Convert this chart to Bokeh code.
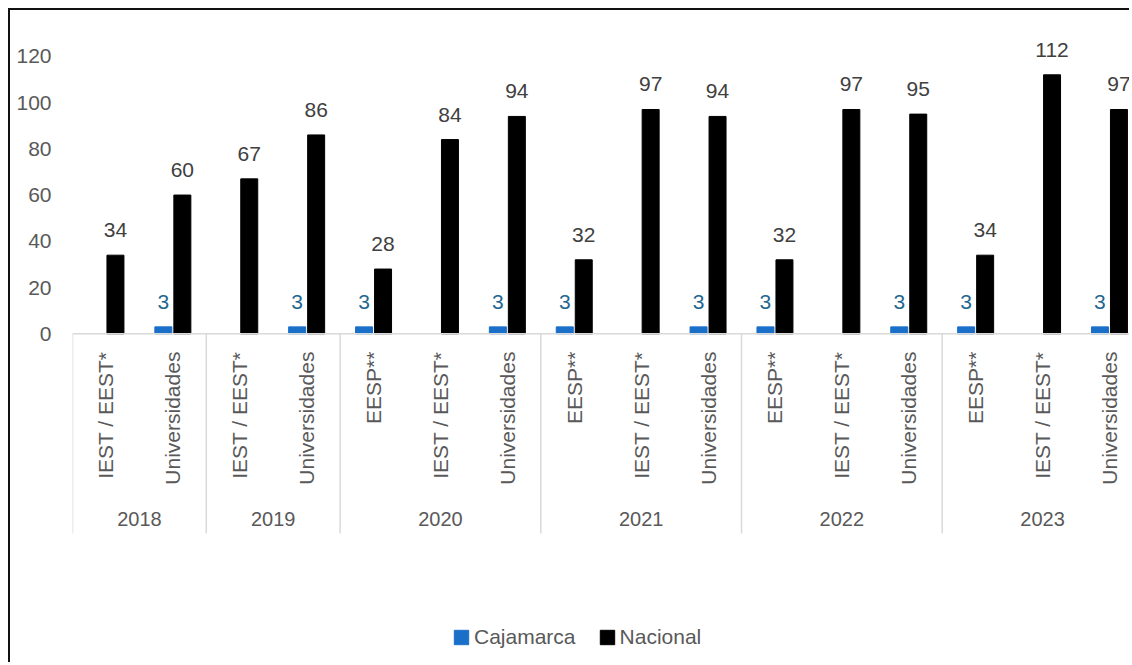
import math
from bokeh.plotting import figure
from bokeh.models import (ColumnDataSource, Range1d, FixedTicker, LabelSet,
                          Legend, LegendItem)
from bokeh.core.properties import value
from bokeh.embed import file_html
from bokeh.resources import INLINE

# ---------------- data ----------------
years = ["2018", "2019", "2020", "2021", "2022", "2023"]
categories_2018 = ["IEST / EEST*", "Universidades"]
categories_2019 = ["IEST / EEST*", "Universidades"]
categories_2020 = ["EESP**", "IEST / EEST*", "Universidades"]
categories_2021 = ["EESP**", "IEST / EEST*", "Universidades"]
categories_2022 = ["EESP**", "IEST / EEST*", "Universidades"]
categories_2023 = ["EESP**", "IEST / EEST*", "Universidades"]
cajamarca = [None, 3, None, 3, 3, None, 3, 3, None, 3, 3, None, 3, 3, None, 3]
nacional = [34, 60, 67, 86, 28, 84, 94, 32, 97, 94, 32, 97, 95, 34, 112, 97]
y_ticks = [0, 20, 40, 60, 80, 100, 120]
series_names = ["Cajamarca", "Nacional"]

groups = [categories_2018, categories_2019, categories_2020,
          categories_2021, categories_2022, categories_2023]

# ---------------- layout constants ----------------
W, H = 1121, 654
LEFT = 62
CAT_PX = 66.9
PX_PER_UNIT = 2.3125
ZERO_FROM_TOP = 323.3
FONT = "Liberation Sans"
BLUE = "#1a6fc9"
LABEL_BLUE = "#1f6690"
DARK = "#404040"
GRAY = "#595959"
SEP = "#d9d9d9"

frame_w = W - LEFT
x_end = frame_w / CAT_PX
y_top = ZERO_FROM_TOP / PX_PER_UNIT
y_bot = -(H - ZERO_FROM_TOP) / PX_PER_UNIT

flat_cats = []
group_bounds = []
pos = 0
for g in groups:
    start = pos
    for c in g:
        flat_cats.append(c)
        pos += 1
    group_bounds.append((start, pos))

xc = [i + 0.5 for i in range(len(flat_cats))]
OFF = 0.142
BW = 0.254

p = figure(width=W, height=H, output_backend="svg", toolbar_location=None,
           x_range=Range1d(0, x_end), y_range=Range1d(y_bot, y_top),
           x_axis_location=None, min_border_left=LEFT, min_border_right=0,
           min_border_top=0, min_border_bottom=0)
p.outline_line_color = None
p.grid.visible = False
p.background_fill_color = "white"
p.border_fill_color = "white"
p.styles = {"margin-left": "8px", "margin-top": "8px",
            "border-left": "2px solid #111", "border-top": "2px solid #111"}

# y axis
ya = p.yaxis[0]
ya.ticker = FixedTicker(ticks=y_ticks)
ya.axis_line_color = None
ya.major_tick_line_color = None
ya.minor_tick_line_color = None
ya.major_tick_out = 0
ya.major_tick_in = 0
ya.major_label_standoff = 21
ya.major_label_text_font = FONT
ya.major_label_text_font_size = "21px"
ya.major_label_text_color = GRAY

# separators
SEP_BOTTOM = -86.4
bx = [b[0] for b in group_bounds] + [group_bounds[-1][1]]
p.segment(x0=bx, y0=[0] * len(bx), x1=bx, y1=[SEP_BOTTOM] * len(bx),
          line_color=SEP, line_width=1.5)

# bars
caj_x = [x - OFF for x, v in zip(xc, cajamarca) if v is not None]
caj_v = [v for v in cajamarca if v is not None]
nac_x = [x + OFF for x in xc]
src_c = ColumnDataSource(dict(x=caj_x, top=caj_v, lab=[str(v) for v in caj_v]))
src_n = ColumnDataSource(dict(x=nac_x, top=nacional, lab=[str(v) for v in nacional]))
r1 = p.vbar(x="x", top="top", width=BW, bottom=0, source=src_c,
            fill_color=BLUE, line_color=BLUE)
r2 = p.vbar(x="x", top="top", width=BW, bottom=0, source=src_n,
            fill_color="black", line_color="black")

# zero line
p.segment(x0=[0], y0=[0], x1=[x_end], y1=[0], line_color=SEP, line_width=1.5)

# data labels
p.add_layout(LabelSet(x="x", y="top", text="lab", source=src_c, y_offset=25,
                      text_align="center", text_baseline="middle",
                      text_font=value(FONT), text_font_size="21px",
                      text_color=LABEL_BLUE))
p.add_layout(LabelSet(x="x", y="top", text="lab", source=src_n, y_offset=25,
                      text_align="center", text_baseline="middle",
                      text_font=value(FONT), text_font_size="21px",
                      text_color=DARK))

# category labels (rotated)
CAT_Y = -7.7
p.text(x=xc, y=[CAT_Y] * len(xc), text=flat_cats, angle=math.pi / 2,
       text_align="right", text_baseline="middle",
       text_font=value(FONT), text_font_size="21px", text_color=GRAY)

# year labels
YEAR_Y = -79.9
gx = [(a + b) / 2 for a, b in group_bounds]
p.text(x=gx, y=[YEAR_Y] * len(gx), text=years,
       text_align="center", text_baseline="middle",
       text_font=value(FONT), text_font_size="20px", text_color=GRAY)

legend = Legend(items=[LegendItem(label=series_names[0], renderers=[r1]),
                       LegendItem(label=series_names[1], renderers=[r2])],
                orientation="horizontal", location=(380, 15),
                glyph_width=18, glyph_height=18, label_standoff=4, spacing=22,
                padding=0, margin=0, border_line_color=None,
                background_fill_alpha=0,
                label_text_font=FONT, label_text_font_size="21px",
                label_text_color=GRAY)
p.add_layout(legend, "center")

open("out.html", "w").write(file_html(p, INLINE))
